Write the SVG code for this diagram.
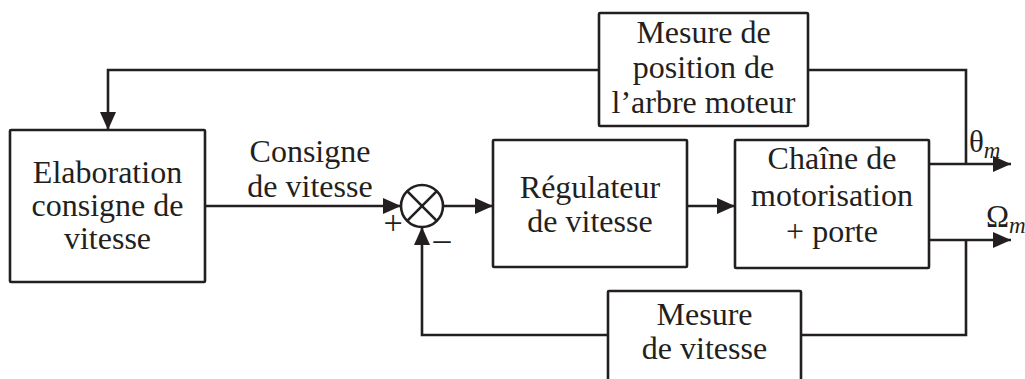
<svg xmlns="http://www.w3.org/2000/svg" width="1025" height="379" viewBox="0 0 1025 379">
<defs>
<style>
.box{fill:#fff;stroke:#231f20;stroke-width:2.6;stroke-linejoin:round}
.ln{fill:none;stroke:#231f20;stroke-width:2.6}
.t{font-family:"Liberation Serif","Times New Roman",serif;font-size:32px;fill:#231f20;text-anchor:middle}
.s{font-family:"Liberation Serif","Times New Roman",serif;fill:#231f20}
</style>
<marker id="arr" viewBox="0 0 18 16" refX="18" refY="8" markerWidth="18" markerHeight="16" markerUnits="userSpaceOnUse" orient="auto">
<path d="M0,0 L18,8 L0,16 Z" fill="#231f20"/>
</marker>
</defs>
<rect width="1025" height="379" fill="#fff"/>
<g id="connectors">
<polyline class="ln" points="599,70 108,70 108,130" marker-end="url(#arr)"/>
<polyline class="ln" points="966,164 966,70 808,70"/>
<line class="ln" x1="205" y1="206" x2="401" y2="206" marker-end="url(#arr)"/>
<line class="ln" x1="443" y1="206" x2="493" y2="206" marker-end="url(#arr)"/>
<line class="ln" x1="687" y1="206" x2="735" y2="206" marker-end="url(#arr)"/>
<line class="ln" x1="929" y1="164" x2="1011" y2="164" marker-end="url(#arr)"/>
<line class="ln" x1="929" y1="240" x2="1011" y2="240" marker-end="url(#arr)"/>
<polyline class="ln" points="966,240 966,335 801,335"/>
<polyline class="ln" points="608,335 422,335 422,227" marker-end="url(#arr)"/>
</g>
<g id="sum">
<circle cx="422" cy="206" r="21" fill="#fff" stroke="#231f20" stroke-width="2.6"/>
<line class="ln" x1="407.2" y1="191.2" x2="436.8" y2="220.8"/>
<line class="ln" x1="436.8" y1="191.2" x2="407.2" y2="220.8"/>
<text class="s" x="393" y="234" font-size="34" text-anchor="middle">+</text>
<text class="s" x="442" y="250" font-size="34" text-anchor="middle">–</text>
</g>
<g id="elaboration">
<rect class="box" x="10" y="130" width="195" height="152" rx="1"/>
<text class="t" x="107.5" y="183">Elaboration</text>
<text class="t" x="107.5" y="216">consigne de</text>
<text class="t" x="107.5" y="249">vitesse</text>
</g>
<g id="label-consigne">
<text class="t" x="310" y="162">Consigne</text>
<text class="t" x="310" y="197">de vitesse</text>
</g>
<g id="mesure-position">
<rect class="box" x="599" y="13" width="209" height="113" rx="1"/>
<text class="t" x="703.5" y="43">Mesure de</text>
<text class="t" x="703.5" y="78">position de</text>
<text class="t" x="703.5" y="113">l’arbre moteur</text>
</g>
<g id="regulateur">
<rect class="box" x="493" y="140" width="194" height="127" rx="1"/>
<text class="t" x="590" y="198">Régulateur</text>
<text class="t" x="590" y="232">de vitesse</text>
</g>
<g id="chaine">
<rect class="box" x="735" y="140" width="194" height="128" rx="1"/>
<text class="t" x="832" y="169">Chaîne de</text>
<text class="t" x="832" y="206">motorisation</text>
<text class="t" x="832" y="242">+ porte</text>
</g>
<g id="mesure-vitesse">
<rect class="box" x="608" y="291" width="193" height="110" rx="1"/>
<text class="t" x="704.5" y="325">Mesure</text>
<text class="t" x="704.5" y="359">de vitesse</text>
</g>
<g id="outputs">
<text class="s" x="969" y="152" font-size="31">θ<tspan font-style="italic" font-size="23" dy="6">m</tspan></text>
<text class="s" x="986" y="227" font-size="31">Ω<tspan font-style="italic" font-size="23" dy="6">m</tspan></text>
</g>
</svg>
